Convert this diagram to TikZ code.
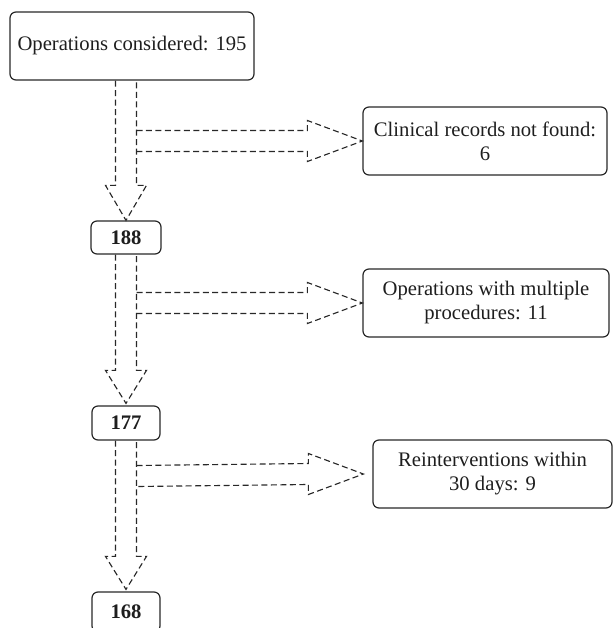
\documentclass[tikz,border=0pt]{standalone}
\usepackage{fontspec}
\setmainfont{Liberation Serif}
\usepackage{tikz}
\usetikzlibrary{calc}
\definecolor{LineCol}{RGB}{40,40,40}
\definecolor{TextCol}{RGB}{30,30,30}
\tikzstyle{BoxNode}=[draw=LineCol,rounded corners=4.5pt,line width=0.9pt,inner sep=0pt,
text=TextCol,align=center,font=\fontsize{15.5}{18}\selectfont]
\tikzstyle{CountNode}=[BoxNode,font=\fontsize{15.5}{18}\selectfont\bfseries,
minimum width=51pt,minimum height=25.5pt]
\tikzstyle{SideNode}=[BoxNode,minimum height=51pt]
\tikzstyle{DashLine}=[LineCol,line width=0.85pt,dash pattern=on 4.5pt off 2.6pt,line join=miter]
\tikzset{
  BlockDown/.style={DashLine,to path={
    ($(\tikztostart)+(-10.5,0)$) -- ($(\tikztotarget)+(-10.5,-35)$)
    -- ($(\tikztotarget)+(-20.5,-35)$) -- ($(\tikztotarget)+(0,#1)$)
    -- ($(\tikztotarget)+(20.5,-35)$) -- ($(\tikztotarget)+(10.5,-35)$)
    -- ($(\tikztostart)+(10.5,0)$)}},
  BlockDown/.default=0,
  BlockRight/.style={DashLine,to path={
    ($(\tikztostart)+(0,-10.5)$) -- ($(\tikztotarget)+(-55-#1,-10.5)$)
    -- ($(\tikztotarget)+(-55-#1,-20.5)$) -- ($(\tikztotarget)+(-#1,0)$)
    -- ($(\tikztotarget)+(-55-#1,20.5)$) -- ($(\tikztotarget)+(-55-#1,10.5)$)
    -- ($(\tikztostart)+(0,10.5)$)}},
  BlockRight/.default=0
}

\begin{document}
\begin{tikzpicture}[x=0.75pt,y=-0.75pt]
    \useasboundingbox (0,0) rectangle (613,628);
        \node[BoxNode,minimum width=183pt,minimum height=51pt](n195)at(132,46){Operations considered: 195};
        \node[CountNode,minimum width=52.5pt,minimum height=24.75pt](n188)at(126,237.5){188};
        \node[CountNode](n177)at(126,423){177};
        \node[CountNode,minimum height=30pt](n168)at(126,612){168};
        \node[SideNode,minimum width=183pt](c1)at(485,141){Clinical records not found:\\6};
        \node[SideNode,minimum width=184.5pt](c2)at(486,303){Operations with multiple\\procedures: 11};
        \node[SideNode,minimum width=179.25pt](c3)at(492.5,474){Reinterventions within\\30 days: 9};
        % junctions on the right shaft
        \coordinate(d1)at(n188.north |- n195.south);
        \coordinate(j1)at($(n188.north |- c1.west)+(10.5,0)$);
        \coordinate(j2)at($(n188.north |- c2.west)+(10.5,0)$);
        \coordinate(j3)at($(n188.north |- c3.west)+(10.5,2)$);
        \draw[BlockDown](d1)to(n188.north);
        \draw[BlockDown=-2](n188.south)to(n177.north);
        \draw[BlockDown=-2](n177.south)to(n168.north);
        \draw[BlockRight](j1)to(c1.west);
        \draw[BlockRight](j2)to(c2.west);
        \draw[BlockRight=9](j3)to(c3.west);
    \end{tikzpicture}
\end{document}
